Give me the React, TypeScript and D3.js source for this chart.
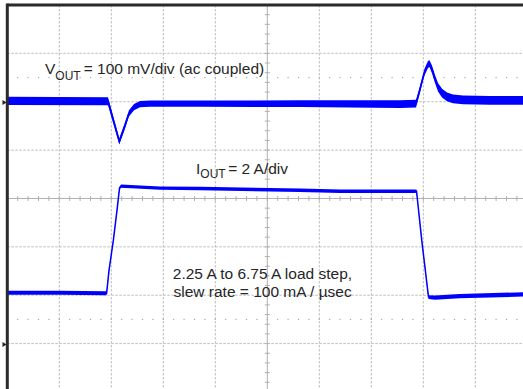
import React from 'react';
import * as d3 from 'd3';

const W = 523;
const H = 389;

// Scope screen geometry (10 x 8 divisions)
const X0 = 7.3;
const DIVX = 52;
const Y0 = 5;
const DIVY = 48.37;

// Channel settings
const VOUT_OFFSET_DIV = 2; // ground marker position (div above centre)
const VOUT_SCALE = 100; // mV/div
const IOUT_OFFSET_DIV = -3;
const IOUT_SCALE = 2; // A/div

// V_OUT trace (time in divisions, value in mV, noise half band in mV)
const voutTime = [0, 1.937, 2.154, 2.254, 2.34, 2.437, 2.552, 2.744, 3.706, 5.629, 7.552, 7.86, 7.927, 7.975, 8.023, 8.09, 8.119, 8.167, 8.225, 8.283, 8.36, 8.456, 8.571, 8.763, 9.283, 10];
const voutMv = [2, 1, -82, -52, -24, -11, -5, -4, -4, -4, -5, -4, 22, 42, 61, 77, 79, 67, 47, 30, 18, 10, 6, 4, 3, 3];
const voutNoise = [8.5, 8.5, 6.5, 6.5, 6.5, 6.5, 6.5, 6.5, 6.5, 7, 8, 8, 7, 7, 7, 7, 7, 8, 8.5, 9, 9, 9, 9, 9, 9, 9];

// I_OUT trace (time in divisions, value in A, noise half band in A)
const ioutTime = [0, 1.01, 1.91, 1.956, 2.04, 2.11, 2.158, 2.187, 2.94, 3.706, 5.63, 6.4, 7.84, 7.87, 7.97, 8.1, 8.225, 8.7, 10];
const ioutAmps = [2.1, 2.1, 2.08, 3.03, 4.28, 5.52, 6.43, 6.51, 6.43, 6.41, 6.34, 6.3, 6.3, 6.3, 4.28, 1.92, 1.9, 1.96, 2.04];
const ioutNoise = [0.08, 0.08, 0.08, 0.04, 0.04, 0.04, 0.06, 0.07, 0.07, 0.07, 0.07, 0.07, 0.07, 0.06, 0.04, 0.08, 0.09, 0.09, 0.09];

const xDivs = d3.range(0, 11);
const yDivs = d3.range(-4, 5);

const xScale = d3.scaleLinear().domain([0, 10]).range([X0, X0 + 10 * DIVX]);
const yScale = d3.scaleLinear().domain([4, -4]).range([Y0, Y0 + 8 * DIVY]);

type Pt = { t: number; v: number; n: number };

function makePts(ts: number[], vs: number[], ns: number[]): Pt[] {
  return ts.map((t, i) => ({ t, v: vs[i], n: ns[i] }));
}

const TRACE = '#0000ff';
const GRID = '#bdbdbd';
const TEXT = '#262626';
const FONT = 'Liberation Sans, Arial, Helvetica, sans-serif';

export default function App() {
  const vPts = makePts(voutTime, voutMv, voutNoise);
  const iPts = makePts(ioutTime, ioutAmps, ioutNoise);

  const vy = (v: number) => yScale(VOUT_OFFSET_DIV + v / VOUT_SCALE);
  const iy = (a: number) => yScale(IOUT_OFFSET_DIV + a / IOUT_SCALE);

  const vArea = d3.area<Pt>().x((d) => xScale(d.t)).y0((d) => vy(d.v - d.n)).y1((d) => vy(d.v + d.n))(vPts) || '';
  const vLine = d3.line<Pt>().x((d) => xScale(d.t)).y((d) => vy(d.v))(vPts) || '';
  const iArea = d3.area<Pt>().x((d) => xScale(d.t)).y0((d) => iy(d.v - d.n)).y1((d) => iy(d.v + d.n))(iPts) || '';
  const iLine = d3.line<Pt>().x((d) => xScale(d.t)).y((d) => iy(d.v))(iPts) || '';

  const minorX = d3.range(0, 50.001, 1).map((k) => k / 5);
  const minorY = d3.range(0, 40.001, 1).map((k) => k / 5 - 4);
  const cx = xScale(5);
  const cy = yScale(0);

  return (
    <svg
      width={W}
      height={H}
      viewBox={`0 0 ${W} ${H}`}
      style={{ position: 'absolute', left: 0, top: 0, background: '#fff' }}
    >
      <rect x={0} y={0} width={W} height={H} fill="#fff" />
      {/* major grid */}
      {xDivs.filter((d) => d !== 0 && d !== 5).map((d) => (
        <line key={'gx' + d} x1={xScale(d)} x2={xScale(d)} y1={Y0} y2={H} stroke={GRID} strokeWidth={1} strokeDasharray="2.5 1.5" />
      ))}
      {yDivs.filter((d) => d !== 4 && d !== 0).map((d) => (
        <line key={'gy' + d} x1={X0} x2={W} y1={yScale(d)} y2={yScale(d)} stroke={GRID} strokeWidth={1} strokeDasharray="2.5 1.5" />
      ))}
      {/* centre axes */}
      <line x1={cx} x2={cx} y1={Y0} y2={H} stroke="#b0b0b0" strokeWidth={1} />
      <line x1={X0} x2={W} y1={cy} y2={cy} stroke="#b0b0b0" strokeWidth={1} />
      {minorY.map((d, i) => (
        <line key={'ty' + i} x1={cx - 2.5} x2={cx + 2.5} y1={yScale(d)} y2={yScale(d)} stroke="#b0b0b0" strokeWidth={1} />
      ))}
      {minorX.map((d, i) => (
        <line key={'tx' + i} x1={xScale(d)} x2={xScale(d)} y1={cy - 2.5} y2={cy + 2.5} stroke="#b0b0b0" strokeWidth={1} />
      ))}
      {/* dotted +-2.5 div markers */}
      {[2.5, -2.5].map((lv) =>
        minorX.map((d, i) => (
          <rect key={'dm' + lv + '_' + i} x={xScale(d) - 0.6} y={yScale(lv) - 0.6} width={1.2} height={1.2} fill="#a8a8a8" />
        ))
      )}

      {/* traces */}
      <path d={vArea} fill={TRACE} stroke="none" />
      <path d={vLine} fill="none" stroke={TRACE} strokeWidth={1.6} />
      <path d={iArea} fill={TRACE} stroke="none" />
      <path d={iLine} fill="none" stroke={TRACE} strokeWidth={1.5} />

      {/* frame */}
      <line x1={X0} x2={W} y1={Y0} y2={Y0} stroke="#2a2a2a" strokeWidth={3.2} />
      <line x1={X0} x2={X0} y1={Y0 - 1.6} y2={H} stroke="#2a2a2a" strokeWidth={3} />

      {/* ground markers */}
      {[VOUT_OFFSET_DIV, IOUT_OFFSET_DIV].map((d) => {
        const y = yScale(d) + 0.8;
        return <path key={'gm' + d} d={`M2.5,${y - 2.5} L6.5,${y} L2.5,${y + 2.5} Z`} fill="#222" />;
      })}

      {/* annotations */}
      <text x={45} y={74} fontFamily={FONT} fontSize={15.5} fill={TEXT}>
        V
        <tspan fontSize={12} dy={6}>OUT</tspan>
        <tspan dy={-6} dx={3}>= 100 mV/div (ac coupled)</tspan>
      </text>
      <text x={196} y={174} fontFamily={FONT} fontSize={15.5} fill={TEXT}>
        I
        <tspan fontSize={12} dy={4.3}>OUT</tspan>
        <tspan dy={-4.3} dx={2.5}>= 2 A/div</tspan>
      </text>
      <text x={172.8} y={279.3} fontFamily={FONT} fontSize={15.5} fill={TEXT}>
        2.25 A to 6.75 A load step,
      </text>
      <text x={173.5} y={296.7} fontFamily={FONT} fontSize={15.5} fill={TEXT}>
        slew rate = 100 mA / µsec
      </text>
    </svg>
  );
}
